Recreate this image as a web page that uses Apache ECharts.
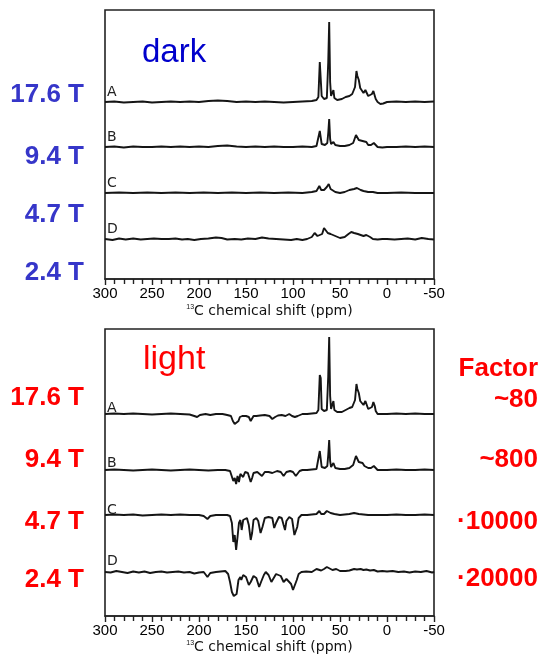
<!DOCTYPE html>
<html><head><meta charset="utf-8">
<script src="https://cdn.jsdelivr.net/npm/echarts@6/dist/echarts.min.js"></script>
<style>html,body{margin:0;padding:0;background:#fff;}#c{width:541px;height:655px;}</style>
</head><body><div id="c"></div>
<script>
// x-axis (ppm) ticks
const ppmMin = -50, ppmMax = 300, ppmStep = 50;
const traceLetters = ['A', 'B', 'C', 'D'];
const fieldLabels = ['17.6 T', '9.4 T', '4.7 T', '2.4 T'];
const factorLabels = ['~80', '~800', '·10000', '·20000'];

// dark spectra: [ppm, intensity]
const darkA = [[300,0],[290,0.5],[280,-0.5],[270,0],[260,0.5],[250,-0.5],[240,0],[230,0.5],[220,0],[210,0.5],[200,0],[190,1],[180,1.5],[170,1],[160,0],[150,0.5],[140,0],[130,0.5],[120,0],[110,-0.5],[100,0],[90,0.5],[80,1],[75,2],[73,5],[71.5,40],[70.5,38],[69.5,6],[67,3],[64,4],[62.5,40],[61.5,80],[60.5,20],[59.5,6],[58,8],[57,12],[56,4],[53,2],[48,3],[44,5],[40,6],[37,8],[34,15],[32.5,31],[31.5,26],[30,22],[28.5,14],[27,12],[25,9],[23,12],[22,11],[20,6],[18,5],[16,8],[14.5,11],[13,9],[12,3],[10,0],[7,-2],[4,-1.5],[0,0],[-10,0.5],[-20,0],[-30,0.5],[-40,0],[-50,0.5]];
const darkB = [[300,0],[290,0.5],[280,-0.5],[270,0.5],[260,0],[250,0],[240,0.5],[230,0],[220,0.5],[210,0],[200,0.5],[190,0],[180,1],[170,1.5],[160,0.5],[150,0],[140,0.5],[130,0],[120,0.5],[110,0],[100,0],[90,0.5],[80,0],[75,1],[73,3],[71.5,16],[70.5,14],[69.5,3],[66,2],[63.5,4],[62.5,14],[61.5,28],[60.5,8],[59.5,3],[58,4],[57,5],[55,2],[50,1],[45,1],[40,2],[36,4],[33,12],[31.5,10],[30,7],[28,5],[26,6],[24,4],[22,5],[20,2],[17,2],[14,4],[12,2],[10,0],[5,-0.5],[0,0],[-10,0],[-20,0.5],[-30,0],[-40,0.5],[-50,0]];
const darkC = [[300,0],[285,0.5],[270,0],[255,0.5],[240,0],[225,0.5],[210,0],[195,0.5],[180,0],[165,0.5],[150,0],[135,0.5],[120,0],[105,0.5],[90,0],[80,1],[75,2],[72,7],[70,3],[67,3],[64,6],[62,9],[60,4],[58,3],[55,1],[50,0],[45,1],[40,3],[35,4],[32,5],[28,3],[25,2],[20,1],[15,1],[10,0],[0,0],[-15,0.5],[-30,0],[-50,0]];
const darkD = [[300,0],[292,-1],[285,0.5],[278,-0.5],[270,0.5],[262,-0.5],[255,0],[248,0.5],[240,0],[232,0],[225,0.5],[218,-0.5],[212,0],[205,-1],[198,0],[190,0.5],[182,1.5],[176,1],[170,-0.5],[162,0],[155,-0.5],[148,0.5],[140,0],[133,1.5],[126,0.5],[118,0],[110,-0.5],[102,-1],[96,0],[90,-1],[85,0],[80,2],[77,6],[75.5,7],[74,3],[72,2],[69,5],[67,11],[65,10],[63,6],[60,5],[55,3],[50,1],[45,2],[41,5],[38,7],[35,6],[31,5],[28,4],[25,3],[22,4],[20,5],[18,2],[15,0],[10,-0.5],[5,0],[0,0],[-8,-0.5],[-15,0],[-22,0.5],[-30,-0.5],[-37,1],[-44,0],[-50,-0.5]];

// light spectra: [ppm, intensity]
const lightA = [[300,0],[290,0.5],[280,0],[270,0.5],[260,0],[250,-0.5],[240,0],[230,0.5],[220,0],[210,-0.5],[205,-2],[202,-3],[199,-1],[193,0],[188,-1],[182,0],[175,0],[170,-1],[166,-2],[164,-7],[162,-10],[160,-9],[158,-7],[156.5,-3],[154,-2],[150,-2],[147,-3],[145,-7],[143.5,-6],[142,-2],[139,-2],[135,-1.5],[130,-1],[125,-2],[122,-5],[119,-3],[116,-1.5],[112,-1],[108,-2],[104,0],[101,-2],[98,-3],[95,-2],[90,0],[85,0],[80,0.5],[75,1],[73,4],[71.5,39],[70.5,36],[69.5,5],[67,3],[64,4],[62.5,38],[61.5,77],[60.5,18],[59.5,5],[58,7],[57,13],[56,4],[53,2],[48,2],[44,4],[40,6],[37,7],[34,14],[32.5,30],[31.5,25],[30,21],[28.5,13],[27,11],[25,9],[23,13],[22,11],[20,5],[18,4],[16,7],[14.5,12],[13,8],[12,3],[10,0],[5,0],[0,0],[-10,0.5],[-20,0],[-30,0.5],[-40,0],[-50,0]];
const lightB = [[300,0],[290,0.5],[280,0],[270,-0.5],[260,0],[250,0.5],[240,0],[230,-0.5],[220,0],[210,0.5],[200,0],[190,-0.5],[180,0],[172,0],[167,-1],[165,-3],[163.5,-11],[162,-8],[160.5,-14],[159,-6],[157.5,-12],[156,-4],[153,-7],[151,-2],[148,-3],[145,-12],[143.5,-8],[142,-3],[138,-2],[136,-3],[133,-6],[130,-2],[126,-2],[122,-3],[120,-5],[117,-1],[113,-2],[110,-6],[107,-2],[103,-1],[100,-2],[97,-6],[95,-5],[93,-1],[90,0],[85,0],[80,0.5],[75,1],[73,3],[71.5,19],[70.5,17],[69.5,3],[66,2],[63.5,4],[62.5,15],[61.5,30],[60.5,9],[59.5,3],[58,5],[57,7],[55,2],[50,1],[45,1],[40,2],[36,5],[33,14],[31.5,11],[30,8],[28,6],[26,7],[24,4],[22,5],[20,2],[17,2],[14,4],[12,2],[10,0],[5,0],[0,0],[-10,0.5],[-20,0],[-30,0],[-40,0.5],[-50,0]];
const lightC = [[300,0],[290,0.5],[280,0],[270,0.5],[260,-0.5],[250,0],[240,0.5],[230,0],[220,0.5],[210,0],[200,0],[195,-1],[191,-4],[188,-1],[182,0],[175,0],[170,0],[167,-1],[165,-8],[163.5,-27],[162,-20],[160.5,-35],[159,-22],[157.5,-8],[156,-5],[154.6,-15],[153,-5],[151,-3],[149,-3],[147,-10],[145,-25],[143.5,-18],[142,-5],[139,-3],[137,-6],[134.5,-18],[132.5,-12],[130,-3],[126,-2],[122,-3],[120,-13],[118,-8],[115,-2],[112,-3],[110,-10],[108.5,-15],[107,-6],[104,-2],[101,-4],[98.5,-20],[97,-18],[95.5,-12],[94,-3],[91,0],[85,0],[80,0.5],[75,1],[72,4],[70,1],[67,1],[64,4],[62,6],[60,2],[56,1],[50,0],[40,1],[35,2],[33,3],[30,1],[25,0.5],[20,0],[10,0],[0,0],[-10,0.5],[-20,0],[-30,0],[-40,0.5],[-50,0]];
const lightD = [[300,0],[294,-0.5],[288,1],[282,0],[276,-1],[270,0.5],[264,-0.5],[258,0.5],[252,-1],[246,0],[240,0.5],[234,-0.5],[228,0],[222,0.5],[216,-0.5],[210,0],[205,-1.5],[200,-0.5],[195,0],[191,-5],[188,-1],[182,0],[177,0.5],[172,1],[169,-2],[167,-10],[165,-20],[163,-24],[161.5,-26],[160,-22],[158,-8],[156,-5],[155,-8],[153,-3],[150,-5],[147,-13],[145,-10],[142,-4],[139,-6],[136,-15],[134,-10],[131,-3],[129,0],[126,-3],[123,-10],[121,-8],[118,-2],[116,0],[113,-4],[110,-10],[107,-7],[105,-8],[102,-12],[100,-18],[98,-17],[96,-8],[94,-2],[91,0],[86,0.5],[80,0],[75,3],[73,2],[70,1.5],[67,3],[64,5],[62,4],[58,2],[54,3],[50,1],[44,1],[40,1.5],[35,3],[32,2.5],[28,3],[25,2],[22,2.5],[18,1.5],[14,2],[10,0.5],[5,1],[0,0.5],[-6,1],[-12,0],[-18,0.5],[-24,-0.5],[-30,0.5],[-36,0],[-42,1],[-48,-0.5],[-50,0]];

// ---- layout (pixels) ----
const FONT = '"Liberation Sans", Arial, sans-serif';
const FONT2 = '"DejaVu Sans", "Liberation Sans", sans-serif';
const grids = [
  {left: 105, top: 10, width: 329, height: 269},
  {left: 105, top: 329, width: 329, height: 287}
];
const darkOffsets = [177, 132, 86, 40];
const lightOffsets = [202, 146, 101, 44];
const darkSets = [darkA, darkB, darkC, darkD];
const lightSets = [lightA, lightB, lightC, lightD];

function xAxisCfg(i, gap) {
  return {
    type: 'value', gridIndex: i, inverse: true,
    min: ppmMin, max: ppmMax, interval: ppmStep,
    axisLine: {show: true, lineStyle: {color: '#222', width: 1.6}},
    axisTick: {show: true, inside: false, length: 6, lineStyle: {color: '#222', width: 1.4}},
    minorTick: {show: true, splitNumber: 5, length: 5, lineStyle: {color: '#222', width: 1.4}},
    splitLine: {show: false},
    axisLabel: {fontFamily: FONT, fontSize: 15, color: '#000', margin: 7},
    name: '{sup|13}C chemical shift (ppm)',
    nameLocation: 'middle', nameGap: gap,
    nameTextStyle: {fontFamily: FONT2, fontSize: 14, color: '#111',
      rich: {sup: {fontFamily: FONT, fontSize: 7, color: '#111', verticalAlign: 'top', padding: [0, 0, 6, 0]}}}
  };
}
function yAxisCfg(i) {
  return {type: 'value', gridIndex: i, min: 0, max: grids[i].height, show: false,
    axisLine: {show: false}, splitLine: {show: false}};
}
const series = [];
darkSets.forEach((d, k) => series.push({
  type: 'line', xAxisIndex: 0, yAxisIndex: 0, showSymbol: false, silent: true,
  data: d.map(p => [p[0], p[1] + darkOffsets[k]]),
  lineStyle: {color: '#151515', width: 1.9}
}));
lightSets.forEach((d, k) => series.push({
  type: 'line', xAxisIndex: 1, yAxisIndex: 1, showSymbol: false, silent: true,
  data: d.map(p => [p[0], p[1] + lightOffsets[k]]),
  lineStyle: {color: '#151515', width: 1.9}
}));

const graphics = [];
function txt(text, x, y, size, color, align, weight, fam) {
  graphics.push({type: 'text', x: x, y: y, silent: true,
    style: {text: text, fill: color, font: (weight || 'normal') + ' ' + size + 'px ' + (fam || FONT),
      align: align, verticalAlign: 'middle'}});
}
const darkLetterY = [92, 137, 183, 229];
const lightLetterY = [408, 463, 510, 561];
traceLetters.forEach((l, k) => {
  txt(l, 107, darkLetterY[k], 14, '#222', 'left', 'normal', FONT2);
  txt(l, 107, lightLetterY[k], 14, '#222', 'left', 'normal', FONT2);
});
const blueY = [95, 157, 215, 273];
const redY = [398, 460, 522, 580];
fieldLabels.forEach((l, k) => {
  txt(l, 84, blueY[k], 26, '#3636c9', 'right', 'bold');
  txt(l, 84, redY[k], 26, '#ff0000', 'right', 'bold');
});
txt('Factor', 538, 369, 26, '#ff0000', 'right', 'bold');
const factorY = [400, 460, 522, 579];
factorLabels.forEach((l, k) => txt(l, 538, factorY[k], 26, '#ff0000', 'right', 'bold'));
txt('dark', 142, 53, 33, '#0000cc', 'left');
txt('light', 143, 360, 34, '#ff0000', 'left');

const chart = echarts.init(document.getElementById('c'), null, {renderer: 'canvas'});
chart.setOption({
  animation: false,
  backgroundColor: '#fff',
  grid: grids.map(g => Object.assign({show: true, borderColor: '#222', borderWidth: 1.6, backgroundColor: 'transparent'}, g)),
  xAxis: [xAxisCfg(0, 25), xAxisCfg(1, 24)],
  yAxis: [yAxisCfg(0), yAxisCfg(1)],
  series: series,
  graphic: graphics
});
</script>
</body></html>
